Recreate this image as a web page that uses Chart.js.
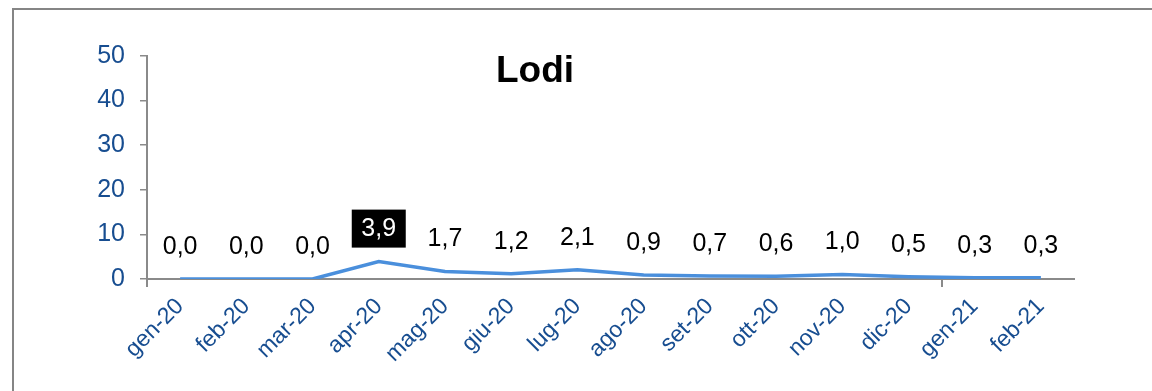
<!DOCTYPE html>
<html>
<head>
<meta charset="utf-8">
<style>
  html, body { margin: 0; padding: 0; background: #fff; overflow: hidden; }
  #wrap { position: relative; width: 1152px; height: 391px; }
  #frame { position: absolute; left: 12px; top: 8px; width: 1300px; height: 500px;
           border: 2.5px solid #858585; box-sizing: border-box; }
  canvas { position: absolute; left: 0; top: 0; }
</style>
</head>
<body>
<div id="wrap">
  <div id="frame"></div>
  <canvas id="chart" width="1152" height="391"></canvas>
</div>
<script src="https://cdn.jsdelivr.net/npm/chart.js"></script>
<script>
// Dati
const mesi = ["gen-20", "feb-20", "mar-20", "apr-20", "mag-20", "giu-20", "lug-20",
              "ago-20", "set-20", "ott-20", "nov-20", "dic-20", "gen-21", "feb-21"];
const valori = [0.0, 0.0, 0.0, 3.9, 1.7, 1.2, 2.1, 0.9, 0.7, 0.6, 1.0, 0.5, 0.3, 0.3];
const yTicks = [0, 10, 20, 30, 40, 50];
const titolo = "Lodi";
const evidenziato = 3; // etichetta con sfondo nero

const FONT = "'Liberation Sans', Arial, sans-serif";
const BLU = "#174d90";

// etichette sopra i punti
const etichette = {
  id: "etichette",
  afterDatasetsDraw(chart) {
    const ctx = chart.ctx;
    const meta = chart.getDatasetMeta(0);
    ctx.save();
    ctx.font = "25px " + FONT;
    ctx.textAlign = "center";
    ctx.textBaseline = "middle";
    meta.data.forEach((pt, i) => {
      const txt = valori[i].toFixed(1).replace(".", ",");
      const x = pt.x, y = pt.y - 33;
      if (i === evidenziato) {
        ctx.fillStyle = "#000";
        ctx.fillRect(x - 27, y - 19, 54, 38);
        ctx.fillStyle = "#fff";
      } else {
        ctx.fillStyle = "#000";
      }
      ctx.fillText(txt, x, y + 1);
    });
    ctx.restore();
  }
};

// titolo posizionato come nell'originale
const titoloPlugin = {
  id: "titoloLodi",
  afterDraw(chart) {
    const ctx = chart.ctx;
    ctx.save();
    ctx.font = "bold 37px " + FONT;
    ctx.fillStyle = "#000";
    ctx.textAlign = "center";
    ctx.textBaseline = "middle";
    ctx.fillText(titolo, 535, 72);
    ctx.restore();
  }
};

new Chart(document.getElementById("chart").getContext("2d"), {
  type: "line",
  data: {
    labels: mesi,
    datasets: [{
      data: valori,
      borderColor: "#4a8fdc",
      borderWidth: 3.5,
      pointRadius: 0,
      tension: 0,
      fill: false
    }]
  },
  options: {
    responsive: false,
    animation: false,
    layout: { padding: { top: 56, right: 78, left: 0, bottom: 0 } },
    plugins: {
      legend: { display: false },
      title: { display: false },
      tooltip: { enabled: false }
    },
    scales: {
      x: {
        offset: true,
        grid: {
          offset: true,
          drawOnChartArea: false,
          tickLength: 8,
          color: (c) => (c.index === 0 || c.index === 12) ? "#8a8a8a" : "rgba(0,0,0,0)",
          lineWidth: 2
        },
        border: { color: "#8a8a8a", width: 2 },
        ticks: {
          minRotation: 45,
          maxRotation: 45,
          autoSkip: false,
          padding: 6,
          color: BLU,
          font: { size: 23, family: FONT }
        },
        afterFit(scale) { scale.height = 112; }
      },
      y: {
        min: 0,
        max: 50,
        afterBuildTicks(scale) { scale.ticks = yTicks.map(v => ({ value: v })); },
        grid: {
          drawOnChartArea: false,
          tickLength: 7,
          color: "#8a8a8a",
          lineWidth: 1.5
        },
        border: { color: "#8a8a8a", width: 2 },
        ticks: {
          padding: 15,
          color: BLU,
          font: { size: 25, family: FONT }
        },
        afterFit(scale) { scale.width = 147; }
      }
    }
  },
  plugins: [etichette, titoloPlugin]
});
</script>
</body>
</html>
